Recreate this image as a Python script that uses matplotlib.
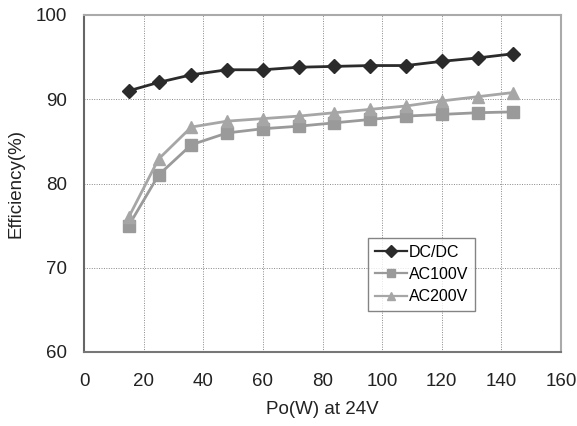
import matplotlib
matplotlib.use("Agg")
import matplotlib.pyplot as plt

plt.rcParams['font.family'] = ['Liberation Sans', 'DejaVu Sans']

# output power (W) at 24V
po = [15, 25, 36, 48, 60, 72, 84, 96, 108, 120, 132, 144]

# efficiency (%)
dcdc = [91.0, 92.0, 92.9, 93.5, 93.5, 93.8, 93.9, 94.0, 94.0, 94.5, 94.9, 95.4]
ac100 = [75.0, 81.0, 84.6, 86.0, 86.5, 86.8, 87.2, 87.6, 88.0, 88.2, 88.4, 88.5]
ac200 = [76.0, 82.9, 86.7, 87.4, 87.7, 88.0, 88.4, 88.8, 89.2, 89.8, 90.3, 90.8]

fig = plt.figure(figsize=(5.77, 4.26), dpi=100)
ax = fig.add_axes([84 / 577, 1 - 352 / 426, 477 / 577, 337 / 426])

ax.plot(po, dcdc, color='#2b2b2b', lw=2, marker='D', ms=7, label='DC/DC')
ax.plot(po, ac100, color='#9a9a9a', lw=2, marker='s', ms=8, label='AC100V')
ax.plot(po, ac200, color='#a6a6a6', lw=2, marker='^', ms=8, label='AC200V')

ax.set_xlim(0, 160)
ax.set_ylim(60, 100)
ax.set_xticks(range(0, 161, 20))
ax.set_yticks(range(60, 101, 10))
ax.grid(True, ls=(0, (1, 1.5)), color='#888888', lw=0.7)
ax.tick_params(length=0, labelsize=13.5, colors='#222222')
ax.tick_params(axis='x', pad=15)
ax.tick_params(axis='y', pad=12)

ax.spines['left'].set_color('#666666')
ax.spines['bottom'].set_color('#777777')
ax.spines['top'].set_color('#aaaaaa')
ax.spines['right'].set_color('#aaaaaa')
for s in ax.spines.values():
    s.set_linewidth(1.5)

ax.set_xlabel('Po(W) at 24V', fontsize=13.5, labelpad=8, color='#222222')
ax.set_ylabel('Efficiency(%)', fontsize=13.5, labelpad=8, color='#222222')

leg = ax.legend(loc='upper left', bbox_to_anchor=(0.596, 0.337), fontsize=11.5,
                frameon=True, fancybox=False, edgecolor='#666666',
                handlelength=2.0, borderpad=0.4, labelspacing=0.45,
                handletextpad=0.15, borderaxespad=0)
leg.get_frame().set_linewidth(1)
for h in leg.legend_handles:
    h.set_markersize(6)
    h.set_linewidth(1.6)

fig.savefig('out.png', dpi=100)
